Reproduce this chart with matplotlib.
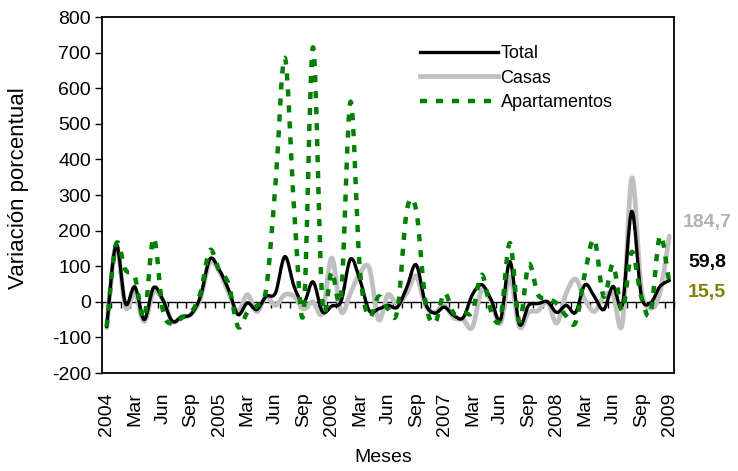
import numpy as np
import matplotlib
matplotlib.use("Agg")
from matplotlib import pyplot as plt
from matplotlib.path import Path
from matplotlib.patches import PathPatch
from matplotlib.lines import Line2D

plt.rcParams['font.family'] = ['Liberation Sans', 'DejaVu Sans']
plt.rcParams['axes.unicode_minus'] = False

# monthly values, Jan 2004 .. Jan 2009
total = [-70, 160, -5, 42, -50, 40, 5, -55, -42, -35, 15, 120,
         90, 34, -36, -3, -22, 15, 25, 127, 42, -3, 56, -28,
         -12, 2, 120, 62, -25, -20, -10, -15, 40, 104, -5, -32,
         -15, -38, -45, 20, 48, 6, -50, 113, -62, -10, -5, 0,
         -30, -10, -30, 48, 15, -22, 43, -8, 254, 20, -3, 43,
         59.8]
casas = [-73, 160, -15, 25, -55, 28, 5, -55, -42, -35, 10, 110,
         85, 25, -28, 20, -28, 15, -10, 20, 15, -20, 0, -32,
         123, -28, 25, 80, 95, -50, 20, -8, 25, 72, -10, -30,
         -10, -45, -50, -72, 35, 0, -60, 70, -70, -30, -25, 0,
         -60, 24, 64, 6, -27, 15, 20, -60, 348, 40, -18, 25,
         184.7]
apartamentos = [-70, 162, 90, 70, -45, 180, -25, -62, -45, -30, 25, 145,
                88, 50, -70, -30, -12, 35, 330, 685, 255, -30, 715, 0,
                85, 20, 562, 90, -42, 15, -20, -25, 255, 258, 0, -60,
                25, -32, -28, -28, 76, -27, -45, 165, -55, 105, 20, 10,
                -5, -40, -58, 80, 175, 15, 105, -25, 140, 15, -32, 185,
                52]
tick_labels = ["2004", "Mar", "Jun", "Sep", "2005", "Mar", "Jun", "Sep",
               "2006", "Mar", "Jun", "Sep", "2007", "Mar", "Jun", "Sep",
               "2008", "Mar", "Jun", "Sep", "2009"]
end_labels = ["184,7", "59,8", "15,5"]

x = np.arange(len(total))
fs = 14


def smooth_path(xs, ys):
    # Excel-like smoothed line: cubic bezier through every data point
    pts = np.column_stack([xs, ys]).astype(float)
    verts = [pts[0]]
    codes = [Path.MOVETO]
    n = len(pts)
    for i in range(n - 1):
        p0 = pts[max(i - 1, 0)]
        p1 = pts[i]
        p2 = pts[i + 1]
        p3 = pts[min(i + 2, n - 1)]
        verts += [p1 + (p2 - p0) / 6, p2 - (p3 - p1) / 6, p2]
        codes += [Path.CURVE4] * 3
    return Path(verts, codes)


fig = plt.figure(figsize=(7.38, 4.71), dpi=100)
ax = fig.add_axes([102/738, 1-373/471, 572/738, 356/471])

styles = [
    (casas, dict(color="#c0c0c0", lw=3.4), "Casas", 2),
    (total, dict(color="black", lw=2.4), "Total", 3),
    (apartamentos, dict(color="#008000", lw=3.2, linestyle=(0, (1.6, 2.0)),
                        capstyle="butt"), "Apartamentos", 4),
]
handles = {}
for ys, st, name, z in styles:
    patch = PathPatch(smooth_path(x, ys), facecolor="none", edgecolor=st["color"],
                      lw=st["lw"], linestyle=st.get("linestyle", "-"),
                      capstyle=st.get("capstyle", "round"), joinstyle="round",
                      zorder=z)
    ax.add_patch(patch)
    handles[name] = Line2D([], [], color=st["color"], lw=st["lw"],
                           linestyle=st.get("linestyle", "-"),
                           dash_capstyle="butt")

ax.set_xlim(-0.5, 60.5)
ax.set_ylim(-200, 800)
ax.set_yticks(np.arange(-200, 801, 100))
ax.set_xticks(np.arange(0, 61, 3))
ax.set_xticklabels(tick_labels, rotation=90)
ax.tick_params(axis='x', length=0, pad=14, labelsize=fs)
ax.tick_params(axis='y', length=5, width=1, direction='out', labelsize=fs, pad=3)
for s in ax.spines.values():
    s.set_linewidth(1.3)

# zero line with category tick marks
sec = ax.secondary_xaxis(0.2)
sec.set_xticks(np.arange(-0.5, 61, 1))
sec.tick_params(length=4, width=1, direction='out', labelbottom=False)
sec.spines['bottom'].set_linewidth(1)

leg = ax.legend(handles=[handles["Total"], handles["Casas"], handles["Apartamentos"]],
                labels=["Total", "Casas", "Apartamentos"],
                frameon=False, fontsize=13,
                loc='upper left', bbox_to_anchor=((413-102)/572, (17-38)/356 + 1),
                handlelength=4.3, handletextpad=0.15, labelspacing=0.42,
                borderaxespad=0)

fig.text(19/738, 1-188/471, "Variación porcentual", rotation=90,
         ha='center', va='center', fontsize=16)
fig.text(383/738, 1-458/471, "Meses", ha='center', va='center', fontsize=fs)

fig.text(683/738, 1-222/471, end_labels[0], color="#b2b2b2", fontsize=fs,
         fontweight='bold', va='center', ha='left')
fig.text(688/738, 1-263/471, end_labels[1], color="black", fontsize=fs,
         fontweight='bold', va='center', ha='left')
fig.text(688/738, 1-293/471, end_labels[2], color="#808000", fontsize=fs,
         fontweight='bold', va='center', ha='left')

fig.savefig("out.png", dpi=100)
